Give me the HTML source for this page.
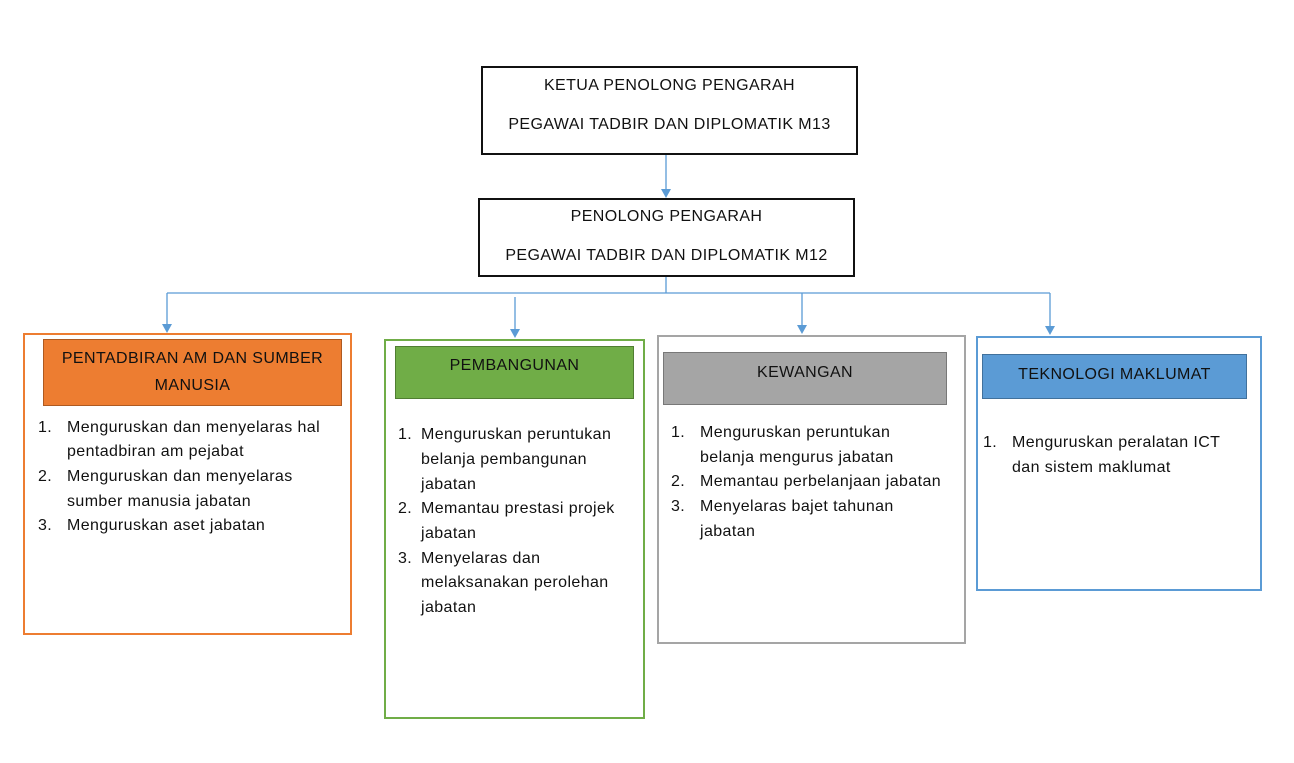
<!DOCTYPE html>
<html><head><meta charset="utf-8"><style>
body{margin:0;width:1294px;height:763px;background:#fff;position:relative;overflow:hidden;font-family:"Liberation Sans",sans-serif;color:#111;}
.b{position:absolute;box-sizing:border-box;}
.t{position:absolute;white-space:nowrap;font-size:16px;letter-spacing:0.4px;line-height:20px;}
.c{text-align:center;}
</style></head><body>
<svg class="b" style="left:0;top:0" width="1294" height="763">
<g stroke="#5B9BD5" stroke-width="1.3" fill="none">
<line x1="666" y1="155" x2="666" y2="190"/>
<line x1="666" y1="276" x2="666" y2="293"/>
<line x1="167" y1="293" x2="1050" y2="293"/>
<line x1="167" y1="293" x2="167" y2="326"/>
<line x1="515" y1="297" x2="515" y2="331"/>
<line x1="802" y1="293" x2="802" y2="327"/>
<line x1="1050" y1="293" x2="1050" y2="328"/>
</g>
<g fill="#5B9BD5">
<polygon points="661,189 671,189 666,198"/>
<polygon points="162,324 172,324 167,333"/>
<polygon points="510,329 520,329 515,338"/>
<polygon points="797,325 807,325 802,334"/>
<polygon points="1045,326 1055,326 1050,335"/>
</g>
</svg>
<div class="b" style="left:481px;top:66px;width:377px;height:89px;border:2px solid #111"></div>
<div class="t c" style="left:481px;width:377px;top:76px">KETUA PENOLONG PENGARAH</div>
<div class="t c" style="left:481px;width:377px;top:115px">PEGAWAI TADBIR DAN DIPLOMATIK M13</div>
<div class="b" style="left:478px;top:198px;width:377px;height:79px;border:2px solid #111"></div>
<div class="t c" style="left:478px;width:377px;top:207px">PENOLONG PENGARAH</div>
<div class="t c" style="left:478px;width:377px;top:246px">PEGAWAI TADBIR DAN DIPLOMATIK M12</div>

<div class="b" style="left:23px;top:333px;width:329px;height:302px;border:2px solid #ED7D31"></div>
<div class="b" style="left:43px;top:339px;width:299px;height:67px;background:#ED7D31;border:1.5px solid #AE5A21"></div>
<div class="t c" style="left:43px;width:299px;top:349px">PENTADBIRAN AM DAN SUMBER</div>
<div class="t c" style="left:43px;width:299px;top:376px">MANUSIA</div>
<div class="t" style="left:38px;top:418px">1.</div><div class="t" style="left:67px;top:418px">Menguruskan dan menyelaras hal</div>
<div class="t" style="left:67px;top:442px">pentadbiran am pejabat</div>
<div class="t" style="left:38px;top:467px">2.</div><div class="t" style="left:67px;top:467px">Menguruskan dan menyelaras</div>
<div class="t" style="left:67px;top:492px">sumber manusia jabatan</div>
<div class="t" style="left:38px;top:516px">3.</div><div class="t" style="left:67px;top:516px">Menguruskan aset jabatan</div>

<div class="b" style="left:384px;top:339px;width:261px;height:380px;border:2px solid #70AD47"></div>
<div class="b" style="left:395px;top:346px;width:239px;height:53px;background:#70AD47;border:1.5px solid #507E32"></div>
<div class="t c" style="left:395px;width:239px;top:356px">PEMBANGUNAN</div>
<div class="t" style="left:398px;top:425px">1.</div><div class="t" style="left:421px;top:425px">Menguruskan peruntukan</div>
<div class="t" style="left:421px;top:450px">belanja pembangunan</div>
<div class="t" style="left:421px;top:475px">jabatan</div>
<div class="t" style="left:398px;top:499px">2.</div><div class="t" style="left:421px;top:499px">Memantau prestasi projek</div>
<div class="t" style="left:421px;top:524px">jabatan</div>
<div class="t" style="left:398px;top:549px">3.</div><div class="t" style="left:421px;top:549px">Menyelaras dan</div>
<div class="t" style="left:421px;top:573px">melaksanakan perolehan</div>
<div class="t" style="left:421px;top:598px">jabatan</div>

<div class="b" style="left:657px;top:335px;width:309px;height:309px;border:2px solid #A5A5A5"></div>
<div class="b" style="left:663px;top:352px;width:284px;height:53px;background:#A5A5A5;border:1.5px solid #787878"></div>
<div class="t c" style="left:663px;width:284px;top:363px">KEWANGAN</div>
<div class="t" style="left:671px;top:423px">1.</div><div class="t" style="left:700px;top:423px">Menguruskan peruntukan</div>
<div class="t" style="left:700px;top:448px">belanja mengurus jabatan</div>
<div class="t" style="left:671px;top:472px">2.</div><div class="t" style="left:700px;top:472px">Memantau perbelanjaan jabatan</div>
<div class="t" style="left:671px;top:497px">3.</div><div class="t" style="left:700px;top:497px">Menyelaras bajet tahunan</div>
<div class="t" style="left:700px;top:522px">jabatan</div>

<div class="b" style="left:976px;top:336px;width:286px;height:255px;border:2px solid #5B9BD5"></div>
<div class="b" style="left:982px;top:354px;width:265px;height:45px;background:#5B9BD5;border:1.5px solid #41719C"></div>
<div class="t c" style="left:982px;width:265px;top:365px">TEKNOLOGI MAKLUMAT</div>
<div class="t" style="left:983px;top:433px">1.</div><div class="t" style="left:1012px;top:433px">Menguruskan peralatan ICT</div>
<div class="t" style="left:1012px;top:458px">dan sistem maklumat</div>
</body></html>
